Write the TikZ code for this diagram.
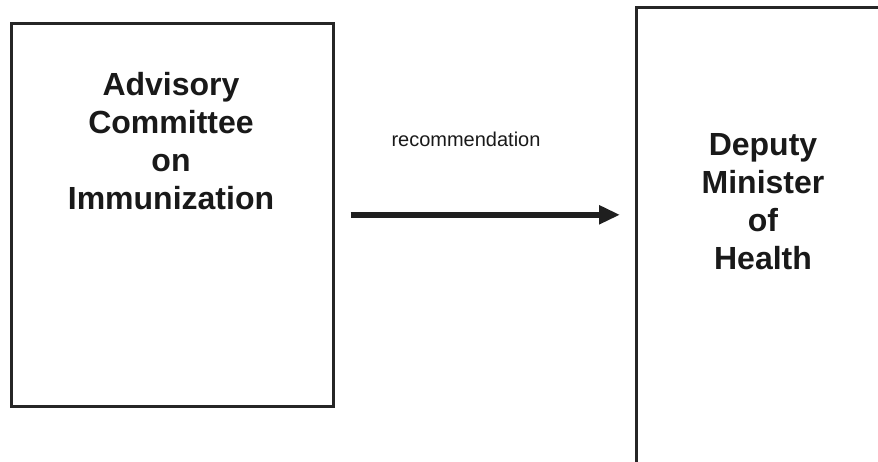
\documentclass[tikz,border=0pt]{standalone}
\usepackage{fontspec}
\setmainfont{Liberation Sans}
\usetikzlibrary{arrows.meta}
\begin{document}
\begin{tikzpicture}[x=1pt,y=-1pt,
  box/.style={draw=black!85, line width=2.6pt, inner sep=0pt},
  heading/.style={align=center, font=\fontsize{32}{38}\selectfont\bfseries,
    text=black!90, inner sep=0pt, anchor=base},
  label/.style={font=\fontsize{20}{24}\selectfont, text=black!90,
    inner sep=0pt, anchor=base},
  flow/.style={line width=5.5pt, draw=black!88,
    -{Triangle[length=21pt,width=18pt]}}
]
\useasboundingbox (0,0) rectangle (878,462);
\begin{scope}
  \clip (0,0) rectangle (878,462);
  \node[box, minimum width=322pt, minimum height=383pt, anchor=north west]
    (acip) at (10,22) {};
  \node[box, minimum width=260pt, minimum height=480pt, anchor=north west]
    (dmh) at (635,6) {};
\end{scope}

% multi-line titles are placed by the baseline of their last line
\node[heading] (acipname) at (171,210) {Advisory\\Committee\\on\\Immunization};
\node[heading] (dmhname) at (763,270) {Deputy\\Minister\\of\\Health};

\node[label] (rec) at (466,147) {recommendation};
\draw[flow] ([xshift=16pt]acip.east) -- ([xshift=-15pt]acip.east -| dmh.west);
\end{tikzpicture}
\end{document}
